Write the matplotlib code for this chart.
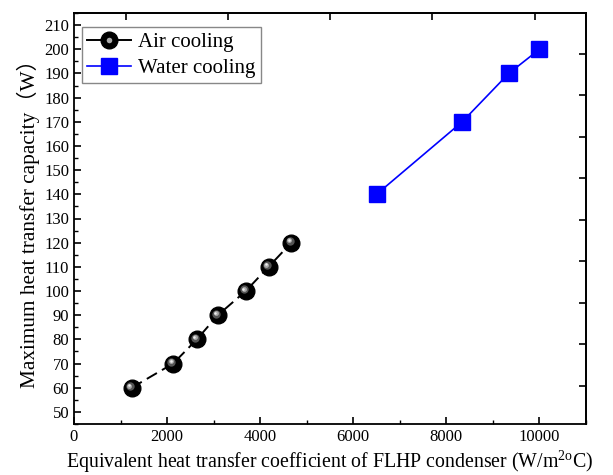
import matplotlib
matplotlib.use("Agg")
import matplotlib.pyplot as plt
import matplotlib.transforms as mtransforms
import numpy as np
from matplotlib.lines import Line2D
from matplotlib.legend_handler import HandlerTuple
from matplotlib.ticker import MultipleLocator

plt.rcParams["font.family"] = ["Liberation Serif", "DejaVu Serif"]
plt.rcParams["mathtext.fontset"] = "custom"
plt.rcParams["mathtext.rm"] = "Liberation Serif"

air_h = [1240, 2130, 2640, 3090, 3690, 4180, 4670]
air_q = [60, 70, 80, 90, 100, 110, 120]
water_h = [6500, 8340, 9340, 10000]
water_q = [140, 170, 190, 200]

fig = plt.figure(figsize=(6.13, 4.75), dpi=100)
ax = fig.add_axes([0.1207, 0.1074, 0.8353, 0.8652])

# air cooling: dashed line + "sphere" markers (black ball with a highlight)
ax.plot(air_h, air_q, color="black", lw=1.4, ls=(0, (6, 3)), zorder=2)
ax.plot(air_h, air_q, ls="none", marker="o", ms=12, mfc="black", mec="black", zorder=3)
for dx, dy, ms, c in [(-1.2, 1.2, 6, "#555555"), (-1.6, 1.6, 3.5, "#aaaaaa"), (-1.8, 1.8, 1.8, "#eeeeee")]:
    off = mtransforms.offset_copy(ax.transData, fig=fig, x=dx, y=dy, units="points")
    ax.plot(air_h, air_q, ls="none", marker="o", ms=ms, mfc=c, mec="none",
            transform=off, zorder=4)

ax.plot(water_h, water_q, color="blue", lw=1.2, marker="s", ms=11,
        mfc="blue", mec="blue", zorder=3)

ax.set_xlim(0, 11000)
ax.set_ylim(45, 215)
ax.xaxis.set_major_locator(MultipleLocator(2000))
ax.xaxis.set_minor_locator(MultipleLocator(1000))
ax.yaxis.set_major_locator(MultipleLocator(10))
ax.yaxis.set_minor_locator(MultipleLocator(5))
ax.tick_params(which="both", direction="in", labelsize=12)
ax.tick_params(which="major", length=5, width=1.2)
ax.tick_params(which="minor", length=3, width=1.0)
for s in ax.spines.values():
    s.set_linewidth(1.3)

# top / right axes in the original carry their own (unlabelled) tick spacing
ax.secondary_xaxis("top").set_xticks(np.arange(1118, 11000, 2194), labels=[])
ax.secondary_yaxis("right").set_yticks(np.arange(198.1, 45, -17.16), labels=[])
for sec in ax.child_axes:
    sec.tick_params(direction="in", length=5, width=1.2)
    for s in sec.spines.values():
        s.set_linewidth(1.3)

ax.set_xlabel("Equivalent heat transfer coefficient of FLHP condenser (W/m$^{\\mathrm{2o}}$C)",
              fontsize=14.3, labelpad=2)
ax.set_ylabel("Maximum heat transfer capacity\uff08W\uff09", fontsize=15.3, labelpad=3,
              family=["Liberation Serif", "Noto Sans CJK SC"])

air_handle = (Line2D([], [], color="black", lw=1.4),
              Line2D([], [], ls="none", marker="o", ms=12, mfc="black", mec="black"),
              Line2D([], [], ls="none", marker="o", ms=4, mfc="#aaaaaa", mec="none"))
water_handle = Line2D([], [], color="blue", lw=1.2, marker="s", ms=11, mfc="blue", mec="blue")
leg = ax.legend([air_handle, water_handle], ["Air cooling", "Water cooling"],
                handler_map={tuple: HandlerTuple(ndivide=1, pad=0)},
                loc="upper left", bbox_to_anchor=(0.015, 0.965), fontsize=15,
                fancybox=False, edgecolor="#888888", framealpha=1,
                handlelength=2.1, borderpad=0.25, labelspacing=0.3, handletextpad=0.35,
                borderaxespad=0)
leg.get_frame().set_linewidth(1.0)

fig.savefig("out.png", dpi=100)
